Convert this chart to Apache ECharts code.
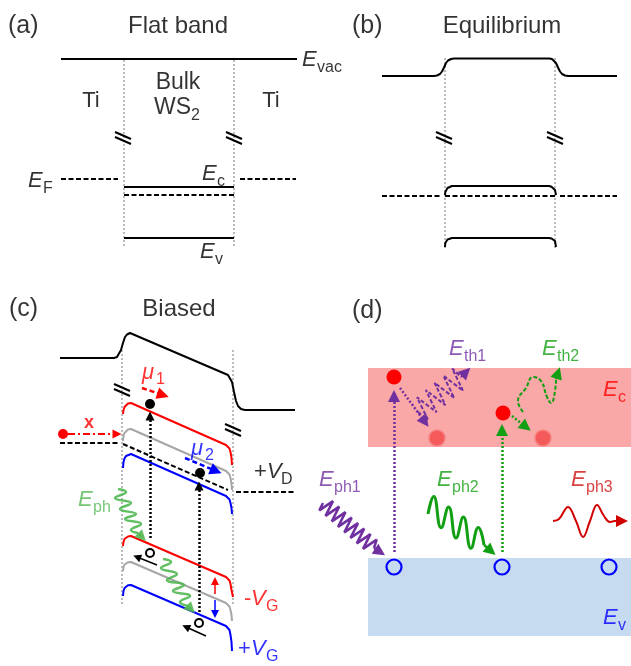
<!DOCTYPE html>
<html><head><meta charset="utf-8">
<script src="https://cdn.jsdelivr.net/npm/echarts@6/dist/echarts.min.js"></script>
<style>html,body{margin:0;padding:0;background:#fff}#c{width:631px;height:666px}</style>
</head><body><div id="c"></div><script>
// ===== Band-diagram geometry (energy level paths, in plot units) =====
// (a) flat band
const aVac = [[61,59],[297,59]];
const aEc = [[124,187],[234,187]];
const aMidFermi = [[124,195],[234,195]];
const aEv = [[124,238],[234,238]];
const aFermiLeft = [[61,179],[118,179]];
const aFermiRight = [[240,179],[296,179]];
const aBounds = [[[124,60],[124,248]],[[234,60],[234,248]]];

// (b) equilibrium
const bVac = [[382,76],[434,76],[437,75.5],[440,74],[442,71.5],[444,67.5],[446,63],[448,60.5],[451,59],[454,58.5],[549,58.5],[552,59],[554,60.5],[556,63],[558,67.5],[560,71.5],[562,74],[565,75.5],[568,76],[617,76]];
const bEc = [[445,195],[445.3,192],[446,190],[447.5,188],[449.5,186.7],[452,186],[549,186],[551.5,186.7],[553.5,188],[555,190],[555.7,192],[556,195]];
const bEv = [[445,247],[445.3,243],[446,241],[447.5,239.5],[449.5,238.5],[452,238],[549,238],[551.5,238.5],[553.5,239.5],[555,241],[555.7,243],[556,247]];
const bFermiLeft = [[382,196],[440,196]];
const bFermiMid = [[445,196],[555,196]];
const bFermiRight = [[560,196],[617,196]];
const bBounds = [[[445,58],[445,250]],[[555,58],[555,250]]];

// (c) biased
const cVac = [[60,358],[114,358],[117,357],[119,355],[121,350],[123,343],[125,337],[127,334.5],[130,333],[131,333],[228,375],[230,377],[232,382],[234,392],[236,401],[238,406],[241,409],[245,410],[295,410]];
const cEcNeg = [[123,414],[123.5,410],[124.5,407],[126,405],[128,403.5],[131,403],[226,445],[228,446.5],[229.5,448.5],[230.5,452],[231.5,458],[232,465]];
const cEc0 = [[123,441],[123.5,436],[124.5,433],[126,431],[128,429.5],[131,429],[226,471],[228,472.5],[229.5,474.5],[230.5,478],[231.5,484],[232,490]];
const cEcPos = [[123,468],[123.5,462],[124.5,458.5],[126,456],[128,454.5],[131,454],[226,496],[228,497.5],[229.5,499.5],[230.5,503],[231.5,508],[232,514]];
const cEvNeg = [[123,546],[123.5,542],[124.5,539],[126,537.5],[128,536.5],[131,536],[226,577],[228,578.5],[229.5,580.5],[230.5,584],[231.5,590],[233,597]];
const cEv0 = [[123,571],[123.5,567],[124.5,564.5],[126,563],[128,562.3],[131,562],[226,603],[228,604.5],[229.5,606.5],[230.5,610],[231.5,615],[232,621]];
const cEvPos = [[123,596],[123.5,591],[124.5,588],[126,586],[128,585.3],[131,585],[226,626],[228,627.5],[229.5,630],[230.5,635],[231.5,642],[232,651]];
const cFermiLeft = [[60,443],[118,443]];
const cFermiMid = [[123,444],[228,490]];
const cFermiRight = [[236,492],[295,492]];
const cBounds = [[[122,350],[122,605]],[[233,350],[233,605]]];
const cPhoton1 = [[118,489],[126,492],[115,498],[131,503],[120,509],[136,514],[125,519],[141,524],[131,530],[138,533]];
const cPhoton2 = [[163,559],[171,562],[161,568],[177,574],[167,580],[184,585],[173,591],[190,596],[180,602],[188,606]];

// (d) excitation / thermalization
const dCondBand = [[368,368],[631,447]];
const dValBand = [[368,558],[631,636]];
const dPhoton1 = [[323,503],[319.3,510.4],[333,501.1],[325.5,515.9],[339.2,506.6],[331.8,521.4],[345.5,512.1],[338,526.9],[351.7,517.6],[344.3,532.4],[358,523.1],[350.5,537.9],[364.2,528.6],[356.8,543.4],[370.5,534.1],[363,548.9],[376.7,539.6],[374,548]];
const dPhoton2 = [[428,514],[433.7,496.6],[441.1,527.7],[448.6,506.9],[456,538],[463.4,517.1],[470.9,548.3],[478.3,527.4],[484,545]];
const dPhoton3 = [[553,521],[559,519],[568,507],[576,521],[583,537],[590,521],[597,505],[604,516],[610,522],[614,521]];
const dThermal1 = [[418,412],[427.8,419.5],[417,397.3],[436.6,412.3],[425.8,390.1],[445.4,405.1],[434.6,382.9],[454.2,397.9],[443.4,375.7],[463,390.7],[452.2,368.5],[461,377]];
const dThermal2 = [[523,412],[518,401],[526,388],[533,377],[541,381],[547,397],[551,403],[555,391],[556,379]];

// carriers
const cElectrons = [[150,404],[200,473]];
const cHoles = [[150,553],[199,623]];
const cInjected = [[63,434]];
const dHotElectrons = [[394,377],[503,413]];
const dRelaxed = [[437,438],[543,438]];
const dHoles = [[394,567],[502,567],[609,567]];

// transitions / arrows: [from, to]
const cInjectArrow = [[68,434],[117,434]];
const cMu1Arrow = [[142,388],[163,395]];
const cMu2Arrow = [[185,458],[216,471]];
const cExcite1 = [[150,538],[150,416]];
const cExcite2 = [[199,612],[199,486]];
const cHoleMove1 = [[157,565],[137,557]];
const cHoleMove2 = [[206,636],[186,627]];
const cGateUp = [[215,594],[215,581]];
const cGateDown = [[215,600],[215,614]];
const cPhoton1Head = [[138,533],[142,537]];
const cPhoton2Head = [[188,606],[191,609]];
const dExcite1 = [[394,552],[394,396]];
const dRelax1 = [[400,388],[425,422]];
const dExcite2 = [[502,552],[502,430]];
const dRelax2 = [[512,416],[526,427]];
const dThermal1Head = [[461,377],[466,372]];
const dThermal2Head = [[556,379],[558,373]];
const dPhoton1Head = [[374,548],[380,552]];
const dPhoton2Head = [[484,545],[491,551]];
const dPhoton3Head = [[614,521],[622,521]];

// interface break marks (centres)
const breakMarks = [[123,137],[234,137],[444,137],[555,137],[122,389],[233,429]];

// ===== styling =====
const FONT = '"Liberation Sans", Arial, sans-serif';
const RED = '#FF0000', BLUE = '#0000FF', GRAY = '#A6A6A6', BLACK = '#000000';
const PURPLE = '#7030A0', GREEN = '#139F13', LGREEN = '#52B852', DRED = '#D01010';

const series = [];
function path(data, color, width, dash, smooth, opacity) {
  series.push({type:'line', data, symbol:'none', silent:true, animation:false, z:3,
    smooth: smooth || false,
    lineStyle:{color, width, type: dash || 'solid', opacity: opacity == null ? 1 : opacity}});
}
function arrow(seg, color, width, dash, size, opacity) {
  series.push({type:'line', data:[], silent:true, animation:false, z:4,
    markLine:{silent:true, animation:false, symbol:['none','triangle'], symbolSize:size,
      label:{show:false}, emphasis:{disabled:true},
      lineStyle:{color, width, type: dash || 'solid', opacity: opacity == null ? 1 : opacity},
      itemStyle:{color, opacity: opacity == null ? 1 : opacity},
      data:[[{coord:seg[0]},{coord:seg[1]}]]}});
}
function dots(data, size, fill, stroke, bw, opacity) {
  series.push({type:'scatter', data, symbol:'circle', symbolSize:size, silent:true, animation:false, z:6,
    itemStyle:{color:fill, borderColor:stroke || fill, borderWidth:bw || 0, opacity: opacity == null ? 1 : opacity}});
}
function band(rect, color) {
  series.push({type:'line', data:[], silent:true, animation:false, z:1,
    markArea:{silent:true, animation:false, itemStyle:{color}, label:{show:false},
      data:[[{coord:rect[0]},{coord:rect[1]}]]}});
}

// bands of panel (d) go underneath
band(dCondBand, '#F9A7A7');
band(dValBand, '#C6DAF0');

// interface boundaries
[...aBounds, ...bBounds, ...cBounds].forEach(s => path(s, GRAY, 1.5, [2,2]));

// (a)
path(aVac, BLACK, 2);
path(aEc, BLACK, 2);
path(aMidFermi, BLACK, 2, [5,2.5]);
path(aEv, BLACK, 2);
path(aFermiLeft, BLACK, 2, [5,2.5]);
path(aFermiRight, BLACK, 2, [5,2.5]);

// (b)
path(bVac, BLACK, 2);
path(bEc, BLACK, 2);
path(bEv, BLACK, 2);
path(bFermiLeft, BLACK, 2, [5,2.5]);
path(bFermiMid, BLACK, 2, [5,2.5]);
path(bFermiRight, BLACK, 2, [5,2.5]);

// break marks
breakMarks.forEach(([x,y]) => {
  path([[x-8,y-5],[x+8,y+2]], BLACK, 2);
  path([[x-8,y],[x+8,y+7]], BLACK, 2);
});

// (c)
path(cVac, BLACK, 2);
path(cEcNeg, RED, 2);
path(cEc0, GRAY, 2);
path(cEcPos, BLUE, 2);
path(cEvNeg, RED, 2);
path(cEv0, GRAY, 2);
path(cEvPos, BLUE, 2);
path(cFermiLeft, BLACK, 2, [5,2.5]);
path(cFermiMid, BLACK, 2, [5,2.5]);
path(cFermiRight, BLACK, 2, [5,2.5]);
path(cPhoton1, LGREEN, 2.5, null, 0.5, 0.9);
path(cPhoton2, LGREEN, 2.5, null, 0.5, 0.9);
arrow(cPhoton1Head, LGREEN, 2, null, 11, 0.9);
arrow(cPhoton2Head, LGREEN, 2, null, 11, 0.9);
arrow(cInjectArrow, RED, 2, [7,3,2,3], 9);
arrow(cMu1Arrow, RED, 2.5, [5,3], 12);
arrow(cMu2Arrow, BLUE, 2.5, [5,3], 12);
arrow(cExcite1, BLACK, 2.5, [2,2], 9);
arrow(cExcite2, BLACK, 2.5, [2,2], 9);
arrow(cHoleMove1, BLACK, 1.5, null, 8);
arrow(cHoleMove2, BLACK, 1.5, null, 8);
arrow(cGateUp, RED, 1.5, null, 8);
arrow(cGateDown, BLUE, 1.5, null, 8);
dots(cElectrons, 10, BLACK);
dots(cHoles, 8, '#ffffff', BLACK, 2);
dots(cInjected, 10, RED);

// (d)
arrow(dExcite1, PURPLE, 2.5, [2,2], 12);
arrow(dRelax1, PURPLE, 2.5, [2,2], 12);
arrow(dExcite2, GREEN, 2.5, [2,2], 12);
arrow(dRelax2, GREEN, 2.5, [2,2], 12);
path(dThermal1, PURPLE, 2, [4,2], 0.5);
arrow(dThermal1Head, PURPLE, 2, null, 12);
path(dThermal2, GREEN, 2, [4,2], 0.5);
arrow(dThermal2Head, GREEN, 2, null, 12);
path(dPhoton1, PURPLE, 2.5, null, 0.5);
arrow(dPhoton1Head, PURPLE, 2.5, null, 12);
path(dPhoton2, GREEN, 3, null, 0.5);
arrow(dPhoton2Head, GREEN, 2.5, null, 12);
path(dPhoton3, '#D00000', 2, null, 0.4);
arrow(dPhoton3Head, '#D00000', 2, null, 12);
dots(dHotElectrons, 15, RED);
dots(dRelaxed, 16, '#F45A5A', '#F78282', 1.5);
dots(dHoles, 15, 'rgba(0,0,0,0)', BLUE, 2.2);

// ===== text =====
const texts = [];
function txt(t, x, y, size, color, o) {
  o = o || {};
  texts.push({value:[x,y], label:{show:true, position:'inside', formatter:t, color: color || BLACK,
    fontSize:size, fontFamily:FONT, fontStyle:o.it ? 'italic' : 'normal', fontWeight:o.b ? 'bold' : 'normal',
    align:o.align || 'left', verticalAlign:'middle'}});
}
function energy(main, sub, x, y, color, subGap) {
  txt(main, x, y, 22, color, {it:true});
  txt(sub, x + (subGap || 15), y + 8, 16, color);
}
// titles
txt('(a)', 8, 26, 25); txt('Flat band', 178, 26, 24, BLACK, {align:'center'});
txt('(b)', 352, 26, 25); txt('Equilibrium', 502, 26, 24, BLACK, {align:'center'});
txt('(c)', 9, 309, 25); txt('Biased', 179, 309, 24, BLACK, {align:'center'});
txt('(d)', 352, 311, 25);
// (a)
txt('Ti', 91, 101, 22, BLACK, {align:'center'});
txt('Ti', 271, 101, 22, BLACK, {align:'center'});
txt('Bulk', 178, 83, 23, BLACK, {align:'center'});
txt('WS', 154, 108, 23); txt('2', 191, 116, 16);
energy('E', 'vac', 302, 60);
energy('E', 'F', 28, 181);
energy('E', 'c', 202, 174);
energy('E', 'v', 200, 252);
// (c)
txt('x', 89, 423, 18, RED, {b:true, align:'center'});
txt('μ', 142, 373, 22, RED, {it:true}); txt('1', 156, 380, 16, RED);
txt('μ', 191, 449, 22, BLUE, {it:true}); txt('2', 205, 456, 16, BLUE);
txt('+', 254, 472, 22); txt('V', 267, 472, 22, BLACK, {it:true}); txt('D', 281, 480, 16);
txt('-', 244, 599, 22, RED); txt('V', 251, 599, 22, RED, {it:true}); txt('G', 266, 607, 16, RED);
txt('+', 238, 649, 22, BLUE); txt('V', 251, 649, 22, BLUE, {it:true}); txt('G', 266, 657, 16, BLUE);
energy('E', 'ph', 78, 500, LGREEN);
// (d)
energy('E', 'th1', 449, 349, PURPLE);
energy('E', 'th2', 542, 349, GREEN);
energy('E', 'c', 603, 390, RED);
energy('E', 'ph1', 319, 480, PURPLE);
energy('E', 'ph2', 437, 480, GREEN);
energy('E', 'ph3', 571, 480, DRED);
energy('E', 'v', 603, 618, BLUE);

series.push({type:'scatter', data:texts, symbolSize:0, silent:true, animation:false, z:10,
  itemStyle:{color:'rgba(0,0,0,0)'}});

const chart = echarts.init(document.getElementById('c'), null, {renderer:'canvas'});
chart.setOption({
  animation:false,
  grid:{left:0, right:0, top:0, bottom:0},
  xAxis:{type:'value', min:0, max:631, show:false},
  yAxis:{type:'value', min:0, max:666, inverse:true, show:false},
  series
});
</script></body></html>
